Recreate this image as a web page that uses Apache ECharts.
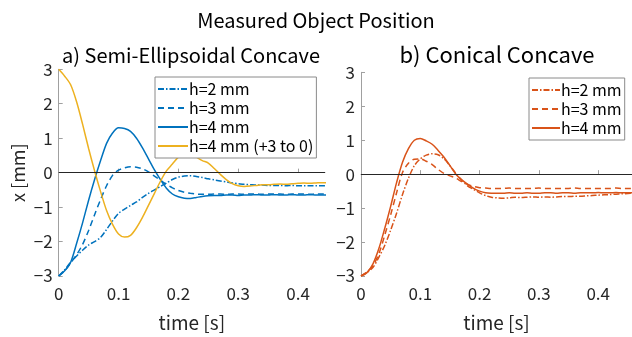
<!DOCTYPE html>
<html>
<head>
<meta charset="utf-8">
<script src="https://cdn.jsdelivr.net/npm/echarts@6/dist/echarts.min.js"></script>
<style>html,body{margin:0;padding:0;background:#fff}#c{width:632px;height:337px}</style>
</head>
<body>
<div id="c"></div>
<script>
// ---- data ----
const timeLeft = [0,0.01,0.02,0.03,0.04,0.05,0.06,0.07,0.08,0.09,0.10,0.11,0.12,0.13,0.14,0.15,0.16,0.17,0.18,0.19,0.20,0.21,0.22,0.23,0.24,0.25,0.26,0.27,0.28,0.29,0.30,0.31,0.32,0.33,0.34,0.35,0.36,0.37,0.38,0.39,0.40,0.41,0.42,0.43,0.44,0.45];
const timeRight = [0,0.01,0.02,0.03,0.04,0.05,0.06,0.07,0.08,0.09,0.10,0.11,0.12,0.13,0.14,0.15,0.16,0.17,0.18,0.19,0.20,0.21,0.22,0.23,0.24,0.25,0.26,0.27,0.28,0.29,0.30,0.31,0.32,0.33,0.34,0.35,0.36,0.37,0.38,0.39,0.40,0.41,0.42,0.43,0.44,0.45,0.46];

// a) Semi-Ellipsoidal Concave
const semiH2 = [-3,-2.82,-2.6,-2.42,-2.25,-2.1,-2.0,-1.88,-1.65,-1.4,-1.18,-1.06,-0.95,-0.85,-0.72,-0.6,-0.5,-0.4,-0.3,-0.2,-0.13,-0.1,-0.09,-0.11,-0.14,-0.18,-0.21,-0.24,-0.27,-0.3,-0.32,-0.34,-0.35,-0.36,-0.36,-0.37,-0.37,-0.37,-0.38,-0.37,-0.38,-0.38,-0.38,-0.38,-0.38,-0.38];
const semiH3 = [-3,-2.85,-2.62,-2.38,-2.08,-1.68,-1.22,-0.78,-0.38,-0.08,0.07,0.14,0.17,0.16,0.11,0.02,-0.1,-0.22,-0.34,-0.44,-0.52,-0.57,-0.6,-0.62,-0.63,-0.63,-0.62,-0.62,-0.63,-0.62,-0.62,-0.63,-0.62,-0.62,-0.63,-0.62,-0.62,-0.62,-0.63,-0.62,-0.62,-0.62,-0.63,-0.62,-0.62,-0.62];
const semiH4 = [-3.0,-2.85,-2.6,-2.05,-1.45,-0.8,-0.2,0.35,0.85,1.15,1.3,1.28,1.2,1.0,0.72,0.4,0.08,-0.2,-0.45,-0.62,-0.7,-0.74,-0.75,-0.72,-0.69,-0.67,-0.66,-0.66,-0.65,-0.65,-0.66,-0.65,-0.65,-0.64,-0.65,-0.65,-0.64,-0.65,-0.65,-0.64,-0.65,-0.65,-0.64,-0.65,-0.65,-0.65];
const semiH4rev = [3.0,2.8,2.55,2.05,1.4,0.7,0.05,-0.55,-1.1,-1.5,-1.78,-1.87,-1.82,-1.6,-1.3,-0.95,-0.6,-0.25,0.05,0.25,0.45,0.55,0.54,0.45,0.35,0.28,0.12,-0.05,-0.2,-0.32,-0.38,-0.4,-0.39,-0.37,-0.35,-0.35,-0.34,-0.33,-0.34,-0.32,-0.31,-0.3,-0.31,-0.3,-0.29,-0.3];

// b) Conical Concave
const conH2 = [-3,-2.9,-2.75,-2.45,-2.1,-1.65,-1.15,-0.6,-0.12,0.25,0.45,0.56,0.6,0.57,0.45,0.25,0.02,-0.18,-0.35,-0.45,-0.55,-0.63,-0.68,-0.7,-0.71,-0.7,-0.68,-0.69,-0.68,-0.67,-0.68,-0.67,-0.68,-0.67,-0.66,-0.66,-0.65,-0.65,-0.64,-0.63,-0.62,-0.61,-0.6,-0.59,-0.58,-0.57,-0.56];
const conH3 = [-3,-2.88,-2.7,-2.35,-1.8,-1.2,-0.55,0.05,0.32,0.44,0.45,0.38,0.28,0.14,0.02,-0.05,-0.12,-0.22,-0.3,-0.36,-0.4,-0.41,-0.42,-0.42,-0.42,-0.41,-0.42,-0.42,-0.42,-0.42,-0.41,-0.42,-0.42,-0.42,-0.42,-0.42,-0.41,-0.42,-0.42,-0.42,-0.42,-0.42,-0.42,-0.41,-0.42,-0.42,-0.42];
const conH4 = [-3,-2.9,-2.65,-2.2,-1.6,-0.95,-0.25,0.35,0.75,1.0,1.05,0.98,0.88,0.7,0.5,0.25,0.0,-0.17,-0.3,-0.42,-0.5,-0.55,-0.56,-0.56,-0.56,-0.55,-0.56,-0.56,-0.55,-0.56,-0.56,-0.55,-0.55,-0.56,-0.55,-0.55,-0.56,-0.55,-0.55,-0.55,-0.54,-0.55,-0.55,-0.54,-0.55,-0.55,-0.55];

const yTicks = [-3,-2,-1,0,1,2,3];
const xTicks = [0,0.1,0.2,0.3,0.4];
const legendLeft = ['h=2 mm','h=3 mm','h=4 mm','h=4 mm (+3 to 0)'];
const legendRight = ['h=2 mm','h=3 mm','h=4 mm'];

// ---- chart ----
const FONT = "'Noto Sans CJK JP','Noto Sans',sans-serif";
const BLUE = '#0072BD', YEL = '#EDB120', ORG = '#D95319';
const DASHDOT = [6,2,1.5,2];
const DASH = [6,4];
const zip = (t, v) => t.map((x, i) => [x, v[i]]);
const minus = v => String(v).replace('-', '\u2212');

function xAx(gi, max) {
  return {
    type: 'value', gridIndex: gi, min: 0, max: max, interval: 0.1,
    name: 'time [s]', nameLocation: 'middle', nameGap: 37,
    nameTextStyle: {fontFamily: FONT, fontSize: 19, color: '#262626'},
    axisLine: {show: true, lineStyle: {color: '#a0a0a0', width: 1}},
    axisTick: {show: true, inside: true, length: 4, lineStyle: {color: '#a0a0a0'}},
    splitLine: {show: false},
    axisLabel: {fontFamily: FONT, fontSize: 17, color: '#262626', margin: 9, showMaxLabel: false,
      formatter: v => String(+v.toFixed(2))}
  };
}
function yAx(gi, withName) {
  return {
    type: 'value', gridIndex: gi, min: yTicks[0], max: yTicks[yTicks.length-1], interval: 1,
    name: withName ? 'x [mm]' : '', nameLocation: 'middle', nameGap: 32, nameRotate: 90,
    nameTextStyle: {fontFamily: FONT, fontSize: 18, color: '#262626'},
    axisLine: {show: true, lineStyle: {color: '#a0a0a0', width: 1}},
    axisTick: {show: true, inside: true, length: 4, lineStyle: {color: '#a0a0a0'}},
    splitLine: {show: false},
    axisLabel: {fontFamily: FONT, fontSize: 17, color: '#262626', margin: 6, formatter: v => minus(v)}
  };
}
function ser(name, gi, t, v, color, dash, zero) {
  const s = {
    name: name, type: 'line', xAxisIndex: gi, yAxisIndex: gi,
    data: zip(t, v), symbol: 'none', smooth: 0.3, animation: false,
    lineStyle: {color: color, width: 1.5, type: dash},
    itemStyle: {color: color}
  };
  if (zero) {
    s.markLine = {silent: true, symbol: ['none','none'], animation: false,
      label: {show: false},
      lineStyle: {color: '#262626', type: 'solid', width: 1.2},
      data: [{yAxis: 0}]};
  }
  return s;
}
function legend(names, prefix, left, top, iw) {
  return {data: names.map(n => prefix + n), orient: 'vertical', left: left, top: top,
    itemWidth: iw, itemHeight: 15, itemGap: 3, padding: [4, 3, 4, 2],
    borderColor: '#8a8a8a', borderWidth: 1, backgroundColor: '#fff', selectedMode: false,
    itemStyle: {opacity: 0, color: 'rgba(0,0,0,0)', borderWidth: 0},
    formatter: n => n.slice(2),
    textStyle: {fontFamily: FONT, fontSize: 16, lineHeight: 15, color: '#000', padding: [0,0,0,-4]}};
}

const chart = echarts.init(document.getElementById('c'), null, {renderer: 'canvas'});
chart.setOption({
  backgroundColor: '#fff',
  animation: false,
  graphic: [
    {type: 'text', x: 316, y: 20, style: {text: 'Measured Object Position', font: '20px ' + FONT, fill: '#000', align: 'center', verticalAlign: 'middle'}},
    {type: 'text', x: 191, y: 55, style: {text: 'a) Semi-Ellipsoidal Concave', font: '20px ' + FONT, fill: '#000', align: 'center', verticalAlign: 'middle'}},
    {type: 'text', x: 497, y: 55, style: {text: 'b) Conical Concave', font: '22px ' + FONT, fill: '#000', align: 'center', verticalAlign: 'middle'}}
  ],
  grid: [
    {left: 58.7, top: 69.3, width: 266.3, height: 212.7},
    {left: 361, top: 72.3, width: 271, height: 214.7}
  ],
  xAxis: [xAx(0, 0.445), xAx(1, 0.457)],
  yAxis: [yAx(0, true), yAx(1, false)],
  legend: [
    legend(legendLeft, 'L:', 155, 77, 30),
    legend(legendRight, 'R:', 529, 78, 28)
  ],
  series: [
    ser('L:' + legendLeft[0], 0, timeLeft, semiH2, BLUE, DASHDOT, true),
    ser('L:' + legendLeft[1], 0, timeLeft, semiH3, BLUE, DASH),
    ser('L:' + legendLeft[2], 0, timeLeft, semiH4, BLUE, 'solid'),
    ser('L:' + legendLeft[3], 0, timeLeft, semiH4rev, YEL, 'solid'),
    ser('R:' + legendRight[0], 1, timeRight, conH2, ORG, DASHDOT, true),
    ser('R:' + legendRight[1], 1, timeRight, conH3, ORG, DASH),
    ser('R:' + legendRight[2], 1, timeRight, conH4, ORG, 'solid')
  ]
});
</script>
</body>
</html>
